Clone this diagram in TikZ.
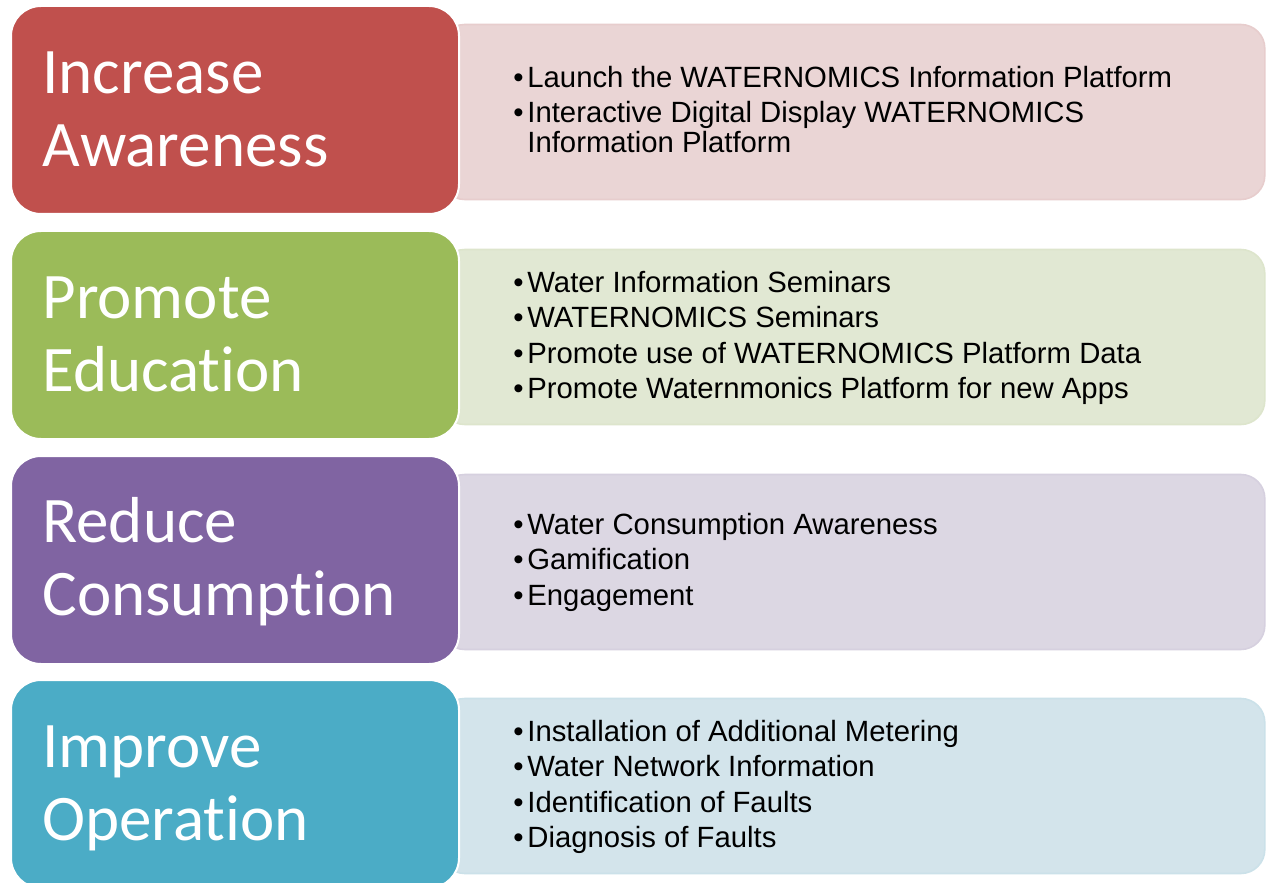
\documentclass[tikz,border=0pt]{standalone}
\usepackage{fontspec}
\setmainfont{Liberation Sans}
\newfontfamily\headfont[Ligatures=NoCommon]{Carlito}
\usetikzlibrary{positioning, backgrounds}

\definecolor{redHead}{HTML}{C0504D}
\definecolor{redPanel}{HTML}{EAD5D5}
\definecolor{greenHead}{HTML}{9BBB59}
\definecolor{greenPanel}{HTML}{E1E8D3}
\definecolor{purpleHead}{HTML}{8064A2}
\definecolor{purplePanel}{HTML}{DCD7E3}
\definecolor{blueHead}{HTML}{4BACC6}
\definecolor{bluePanel}{HTML}{D3E4EB}

\newcommand{\itemdot}{\makebox[7pt][l]{•}}

\tikzstyle{every picture}+=[x=0.5pt, y=-0.5pt]
\tikzstyle{head}=[rectangle, rounded corners=15pt, draw=white, line width=1pt, minimum width=224pt, minimum height=104pt, anchor=north west, inner sep=0pt]
\tikzstyle{title}=[anchor=base west, align=left, inner sep=0pt, text=white, font=\headfont\fontsize{32.5}{36.5}\selectfont]
\tikzstyle{panel}=[rectangle, rounded corners=12pt, line width=0.8pt, minimum width=412pt, minimum height=87.5pt, inner sep=0pt, anchor=west, yshift=-1pt]
\tikzstyle{items}=[anchor=base west, align=left, inner sep=0pt, font=\fontsize{14.65}{17.7}\selectfont]

\begin{document}
\begin{tikzpicture}
		\useasboundingbox (0,0) rectangle (1266,883);
		
		% coloured heads down the left
		\node(h1) [head, fill=redHead] at (10,5) {};
		\node(h2) [head, fill=greenHead] at (10,230) {};
		\node(h3) [head, fill=purpleHead] at (10,455) {};
		\node(h4) [head, fill=blueHead] at (10,679) {};
		
		% base anchor sits on the last line
		\node(t1) [title] at (42,167) {Increase\\Awareness};
		\node(t2) [title] at (42,391.5) {Promote\\Education};
		\node(t3) [title] at (42,615.5) {Reduce\\Consumption};
		\node(t4) [title] at (42,840) {Improve\\Operation};
		
		% light panels tucked behind the heads
		\begin{scope}[on background layer]
		\fill[white] (0,0) rectangle (1266,883);
		\node(p1) [panel, right=-10pt of h1, fill=redPanel, draw=redPanel!94!redHead] {};
		\node(p2) [panel, right=-10pt of h2, fill=greenPanel, draw=greenPanel!94!greenHead] {};
		\node(p3) [panel, right=-10pt of h3, fill=purplePanel, draw=purplePanel!94!purpleHead] {};
		\node(p4) [panel, right=-10pt of h4, fill=bluePanel, draw=bluePanel!94!blueHead] {};
		\end{scope}
		
		\node(l1) [items] at (513,152.5) {\itemdot Launch the WATERNOMICS Information Platform\\
			\itemdot Interactive Digital Display WATERNOMICS\\[-2.7pt]
			\hspace*{7pt}Information Platform};
		\node(l2) [items] at (513,398.7) {\itemdot Water Information Seminars\\
			\itemdot WATERNOMICS Seminars\\
			\itemdot Promote use of WATERNOMICS Platform Data\\
			\itemdot Promote Waternmonics Platform for new Apps};
		\node(l3) [items] at (513,605.3) {\itemdot Water Consumption Awareness\\
			\itemdot Gamification\\
			\itemdot Engagement};
		\node(l4) [items] at (513,847.7) {\itemdot Installation of Additional Metering\\
			\itemdot Water Network Information\\
			\itemdot Identification of Faults\\
			\itemdot Diagnosis of Faults};
		
		\end{tikzpicture}
\end{document}
